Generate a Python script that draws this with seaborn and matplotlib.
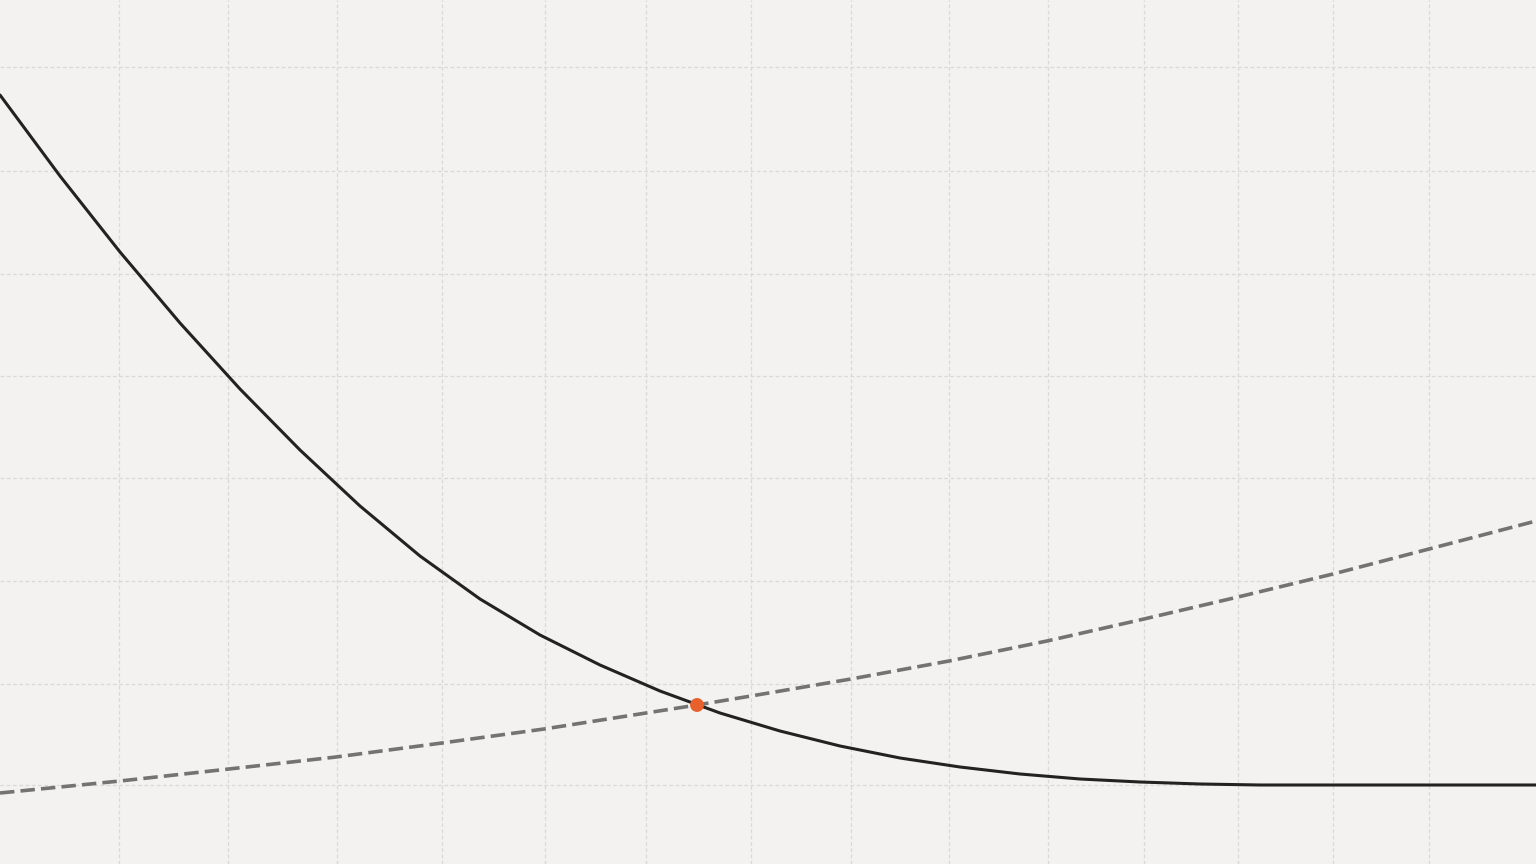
import numpy as np
import pandas as pd
import seaborn as sns
import matplotlib
matplotlib.use("Agg")
import matplotlib.pyplot as plt

# Curva sólida (decreciente)
x_solida = [0, 60, 120, 180, 240, 300, 360, 420, 480, 540, 600, 660, 720,
            780, 840, 900, 960, 1020, 1080, 1140, 1200, 1260, 1400, 1536]
y_solida = [769, 688, 612, 541, 475, 414, 358, 308, 265, 229, 199, 173, 151,
            133, 118, 106, 97, 90, 85, 82, 80, 79, 79, 79]

# Curva discontinua (creciente)
x_discontinua = [0, 120, 229, 336, 442, 544, 646, 697, 751, 851, 949, 1047,
                 1144, 1238, 1333, 1429, 1536]
y_discontinua = [71, 83, 95, 107, 121, 135, 151, 159, 168, 185, 203, 223,
                 245, 267, 290, 315, 343]

# Punto de cruce
x_cruce = [697]
y_cruce = [159]

# Líneas de la cuadrícula
grid_x = [119, 228, 337, 442, 545, 646, 751, 851, 949, 1048, 1144, 1238, 1333, 1429]
grid_y = [79, 180, 283, 386, 488, 590, 693, 797]

df_solida = pd.DataFrame({"x": x_solida, "y": y_solida})
df_disc = pd.DataFrame({"x": x_discontinua, "y": y_discontinua})
df_cruce = pd.DataFrame({"x": x_cruce, "y": y_cruce})

sns.set_theme(style="white")
fig = plt.figure(figsize=(15.36, 8.64), dpi=100)
fig.patch.set_facecolor("#f3f2f1")
ax = fig.add_axes([0, 0, 1, 1])
ax.set_facecolor("#f3f2f1")

# Cuadrícula punteada
ax.set_xticks(grid_x)
ax.set_yticks(grid_y)
ax.grid(True, color="#d9d9d9", linestyle=(0, (3, 2)), linewidth=0.9)
ax.tick_params(length=0, labelbottom=False, labelleft=False)
for s in ax.spines.values():
    s.set_visible(False)

sns.lineplot(data=df_disc, x="x", y="y", ax=ax, color="#737373",
             linewidth=2.6, linestyle=(0, (4, 1.7)))
sns.lineplot(data=df_solida, x="x", y="y", ax=ax, color="#222222",
             linewidth=2.2)
sns.scatterplot(data=df_cruce, x="x", y="y", ax=ax, color="#e8602c",
                s=100, edgecolor="none", zorder=5)

ax.set_xlim(0, 1536)
ax.set_ylim(0, 864)
ax.set_xlabel("")
ax.set_ylabel("")

fig.savefig("out.png", dpi=100, facecolor=fig.get_facecolor())
